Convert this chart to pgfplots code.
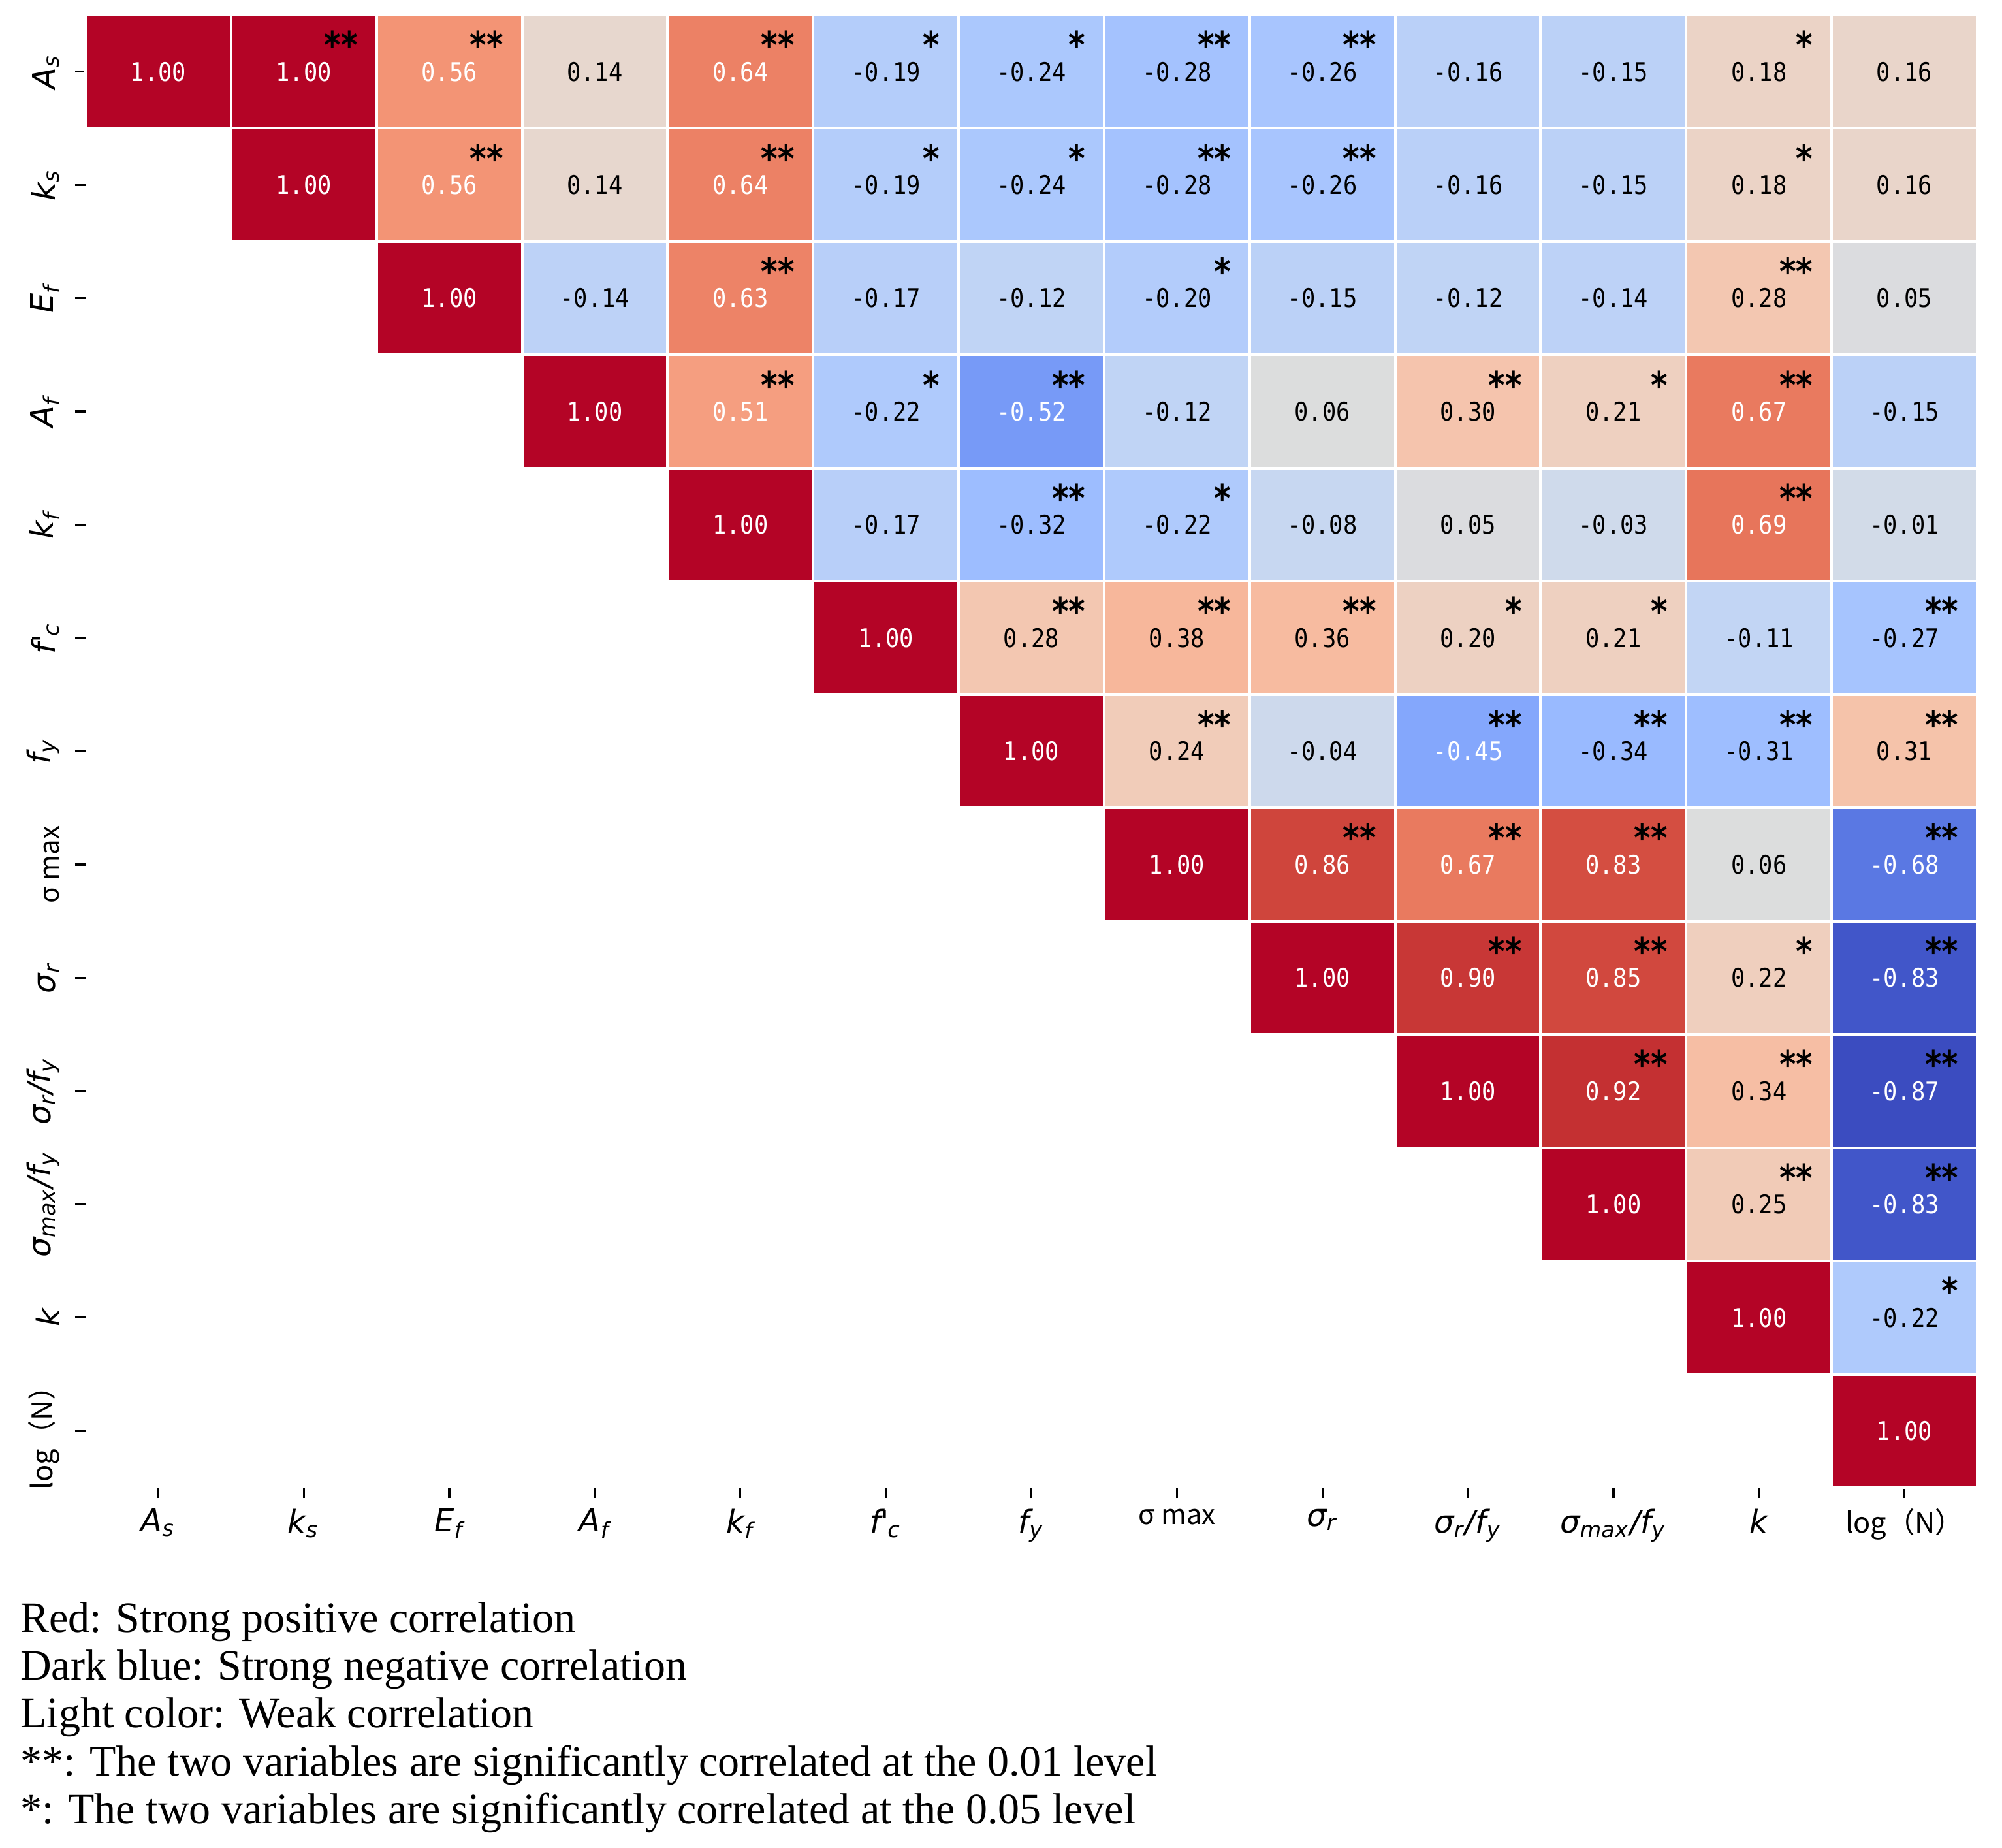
\documentclass[border=0pt]{standalone}
\usepackage{pgfplots}
\pgfplotsset{compat=1.18}
\usepackage{pgfplotstable}
\usepackage{fontspec}
\setmainfont{Liberation Serif}
\newfontfamily\labfont{DejaVu Sans}
\newfontfamily\cjkfont{Noto Sans CJK SC}
\newfontfamily\valfont[FakeStretch=0.9]{DejaVu Sans Mono}
\newfontfamily\starfont[FakeStretch=0.85]{DejaVu Sans}

% matplotlib coolwarm
\pgfplotsset{colormap={coolwarm}{
 rgb=(0.2298,0.2987,0.7537) rgb=(0.2662,0.3531,0.8015) rgb=(0.3039,0.4065,0.8450)
 rgb=(0.3428,0.4588,0.8837) rgb=(0.3830,0.5094,0.9174) rgb=(0.4244,0.5581,0.9456)
 rgb=(0.4667,0.6046,0.9682) rgb=(0.5096,0.6483,0.9848) rgb=(0.5530,0.6889,0.9954)
 rgb=(0.5963,0.7261,0.9998) rgb=(0.6392,0.7596,0.9982) rgb=(0.6813,0.7890,0.9904)
 rgb=(0.7222,0.8140,0.9766) rgb=(0.7615,0.8343,0.9569) rgb=(0.7987,0.8498,0.9317)
 rgb=(0.8335,0.8602,0.9011) rgb=(0.8654,0.8654,0.8654) rgb=(0.8978,0.8489,0.8209)
 rgb=(0.9241,0.8274,0.7745) rgb=(0.9445,0.8009,0.7267) rgb=(0.9589,0.7698,0.6780)
 rgb=(0.9673,0.7341,0.6288) rgb=(0.9700,0.6943,0.5794) rgb=(0.9668,0.6504,0.5303)
 rgb=(0.9580,0.6028,0.4818) rgb=(0.9437,0.5518,0.4342) rgb=(0.9239,0.4973,0.3880)
 rgb=(0.8990,0.4396,0.3432) rgb=(0.8692,0.3783,0.3003) rgb=(0.8346,0.3129,0.2593)
 rgb=(0.7956,0.2413,0.2205) rgb=(0.7525,0.1572,0.1841) rgb=(0.7057,0.0156,0.1502)
}}

\pgfdeclareplotmark{cell}{%
  \pgfpathrectangle{\pgfpoint{-16.71pt}{-13.01pt}}{\pgfpoint{33.42pt}{26.02pt}}%
  \pgfusepathqfillstroke}

\newcommand{\lb}[2]{{\itshape #1\textsubscript{#2}}}
\newcommand{\fc}{{\itshape f\textquotesingle\kern-0.4pt\textsubscript{c}}}

% x = column, y = row, v = correlation
\pgfplotstableread{
x y v
0 0 1.00
1 0 1.00
2 0 0.56
3 0 0.14
4 0 0.64
5 0 -0.19
6 0 -0.24
7 0 -0.28
8 0 -0.26
9 0 -0.16
10 0 -0.15
11 0 0.18
12 0 0.16
1 1 1.00
2 1 0.56
3 1 0.14
4 1 0.64
5 1 -0.19
6 1 -0.24
7 1 -0.28
8 1 -0.26
9 1 -0.16
10 1 -0.15
11 1 0.18
12 1 0.16
2 2 1.00
3 2 -0.14
4 2 0.63
5 2 -0.17
6 2 -0.12
7 2 -0.20
8 2 -0.15
9 2 -0.12
10 2 -0.14
11 2 0.28
12 2 0.05
3 3 1.00
4 3 0.51
5 3 -0.22
6 3 -0.52
7 3 -0.12
8 3 0.06
9 3 0.30
10 3 0.21
11 3 0.67
12 3 -0.15
4 4 1.00
5 4 -0.17
6 4 -0.32
7 4 -0.22
8 4 -0.08
9 4 0.05
10 4 -0.03
11 4 0.69
12 4 -0.01
5 5 1.00
6 5 0.28
7 5 0.38
8 5 0.36
9 5 0.20
10 5 0.21
11 5 -0.11
12 5 -0.27
6 6 1.00
7 6 0.24
8 6 -0.04
9 6 -0.45
10 6 -0.34
11 6 -0.31
12 6 0.31
7 7 1.00
8 7 0.86
9 7 0.67
10 7 0.83
11 7 0.06
12 7 -0.68
8 8 1.00
9 8 0.90
10 8 0.85
11 8 0.22
12 8 -0.83
9 9 1.00
10 9 0.92
11 9 0.34
12 9 -0.87
10 10 1.00
11 10 0.25
12 10 -0.83
11 11 1.00
12 11 -0.22
12 12 1.00
}\corr

\pgfplotstableread{
x y st
1 0 **
2 0 **
4 0 **
5 0 *
6 0 *
7 0 **
8 0 **
11 0 *
2 1 **
4 1 **
5 1 *
6 1 *
7 1 **
8 1 **
11 1 *
4 2 **
7 2 *
11 2 **
4 3 **
5 3 *
6 3 **
9 3 **
10 3 *
11 3 **
6 4 **
7 4 *
11 4 **
6 5 **
7 5 **
8 5 **
9 5 *
10 5 *
12 5 **
7 6 **
9 6 **
10 6 **
11 6 **
12 6 **
8 7 **
9 7 **
10 7 **
12 7 **
9 8 **
10 8 **
11 8 *
12 8 **
10 9 **
11 9 **
12 9 **
11 10 **
12 10 **
12 11 *
}\stars

\begin{document}
\begin{tikzpicture}
\begin{axis}[
  at={(0,0)}, anchor=south west,
  scale only axis, width=434.55pt, height=338.25pt,
  xmin=-0.5, xmax=12.5, ymin=-0.5, ymax=12.5,
  y dir=reverse,
  axis line style={draw=none},
  xtick={0,...,12}, ytick={0,...,12},
  xtick pos=left, xticklabel pos=left,
  ytick pos=left, yticklabel pos=left,
  tick align=outside, major tick length=2.4pt,
  tick style={black, line width=0.5pt},
  tick label style={font=\labfont\fontsize{7.2}{8}\selectfont},
  yticklabel style={rotate=90, anchor=south},
  xticklabel style={anchor=north, yshift=1pt},
  xticklabels={\lb{A}{s}, \lb{k}{s}, \lb{E}{f}, \lb{A}{f}, \lb{k}{f}, \fc,
    \lb{f}{y}, {{\cjkfont\fontsize{6.3}{7}\selectfont σ max}}, \lb{σ}{r},
    {{\itshape σ\textsubscript{r}/f\textsubscript{y}}},
    {{\itshape σ\textsubscript{max}/f\textsubscript{y}}},
    {{\itshape k}}, {{\cjkfont\fontsize{6.5}{7}\selectfont log（N）}}},
  yticklabels={\lb{A}{s}, \lb{k}{s}, \lb{E}{f}, \lb{A}{f}, \lb{k}{f}, \fc,
    \lb{f}{y}, {{\cjkfont\fontsize{6.3}{7}\selectfont σ max}}, \lb{σ}{r},
    {{\itshape σ\textsubscript{r}/f\textsubscript{y}}},
    {{\itshape σ\textsubscript{max}/f\textsubscript{y}}},
    {{\itshape k}}, {{\cjkfont\fontsize{6.5}{7}\selectfont log（N）}}},
  colormap name=coolwarm, point meta min=-0.87, point meta max=1,
  clip=false,
  valstyle/.style={draw=none, mark=none, point meta=explicit symbolic,
    unbounded coords=discard, nodes near coords,
    nodes near coords style={anchor=center, text=#1,
      font=\valfont\fontsize{5.9}{7}\selectfont}},
]
% coloured cells
\addplot[scatter, only marks, mark=cell, scatter src=explicit,
  scatter/use mapped color={draw=white, fill=mapped color},
  mark options={line width=0.6pt},
] table[x=x, y=y, meta=v] {\corr};

% value labels: white on dark cells, black on light ones
\addplot[valstyle=white,
  y filter/.expression={abs(\thisrow{v})>=0.45 ? y : nan},
] table[x=x, y=y, meta=v] {\corr};
\addplot[valstyle=black,
  y filter/.expression={abs(\thisrow{v})<0.45 ? y : nan},
] table[x=x, y=y, meta=v] {\corr};

% significance stars
\addplot[draw=none, mark=none, point meta=explicit symbolic,
  nodes near coords,
  nodes near coords style={anchor=east, inner sep=0pt, xshift=12.6pt, yshift=6.2pt,
    text=black, font=\starfont\bfseries\fontsize{8.6}{8.6}\selectfont},
] table[x=x, y=y, meta=st] {\stars};
\end{axis}

\begin{scope}[every node/.style={anchor=base west, inner sep=0pt,
    font=\fontsize{9.9}{11}\selectfont}]
\node at (-15.15pt,-33.3pt) {Red: Strong positive correlation};
\node at (-15.15pt,-44.2pt) {Dark blue: Strong negative correlation};
\node at (-15.15pt,-55.2pt) {Light color: Weak correlation};
\node at (-15.15pt,-66.3pt) {**: The two variables are significantly correlated at the 0.01 level};
\node at (-15.15pt,-77.2pt) {*: The two variables are significantly correlated at the 0.05 level};
\end{scope}

\pgfresetboundingbox
\path[use as bounding box] (-19.65pt,-82.8pt) rectangle (440.25pt,341.7pt);
\end{tikzpicture}
\end{document}
